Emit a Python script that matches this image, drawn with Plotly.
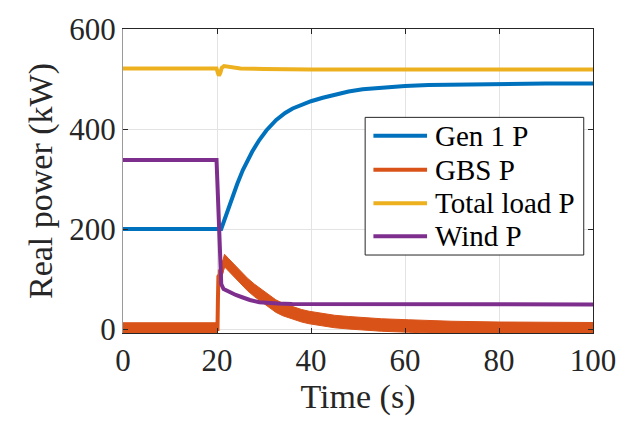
import plotly.graph_objects as go

# Time axis samples (s) and power readings (kW) for each source
gen_t = [0, 20.9, 21.5, 22.2, 22.7, 23.5, 24.3, 25.5, 26.5, 27.5, 29, 30.5, 32.6, 34.5, 36.1,
         38, 40, 42.5, 45.6, 48, 51, 55, 60, 65, 70, 80, 90, 100]
gen_p = [200, 200, 216, 235, 249, 270, 290, 318, 338, 355, 378, 397, 418, 432, 441,
         449, 455.5, 462.5, 470, 475, 479.5, 483, 486, 488, 489, 490, 491, 491]

gbs_t = [0, 20.1, 20.2, 20.3, 20.9, 21.6, 22.5, 23.5, 25, 26.5, 28, 30, 32.5, 34, 36, 38,
         39.6, 42, 45, 48, 50.2, 55, 60.7, 65, 70, 80, 90, 100]
gbs_p = [0, 0, 60, 105, 112, 137, 128, 118, 103, 89, 77, 63, 46, 39, 32, 26.5,
         23, 19, 15, 12.5, 11, 8, 6, 4.5, 3, 1.5, 0.8, 0.5]
gbs_ripple = 12.5  # half-height of the switching ripple band (kW)

load_t = [0, 19.9, 20.2, 20.4, 20.7, 21.0, 21.5, 22.5, 25, 30, 40, 100]
load_p = [521, 521, 512, 507, 512, 522, 526, 524, 521, 520, 519, 519]

wind_t = [0, 19.9, 20.4, 20.9, 21.4, 22.5, 24, 25.5, 27, 29, 31, 33, 36, 40, 100]
wind_p = [338, 338, 215, 90, 80, 74, 68, 63, 58, 53.5, 51.5, 51, 50, 50, 49]

x_ticks = [0, 20, 40, 60, 80, 100]
y_ticks = [0, 200, 400, 600]

series_names = ["Gen 1 P", "GBS P", "Total load P", "Wind P"]
BLUE, ORANGE, YELLOW, PURPLE = "#0072BD", "#D95319", "#EDB120", "#7E2F8E"
series_colors = [BLUE, ORANGE, YELLOW, PURPLE]
FONT = "Liberation Serif"

fig = go.Figure()

fig.add_trace(go.Scatter(x=gen_t, y=gen_p, mode="lines", name=series_names[0],
                         showlegend=False, line=dict(color=BLUE, width=4)))

# GBS ripple envelope
gbs_lo = [p - gbs_ripple for p in gbs_p]
gbs_hi = [p + gbs_ripple for p in gbs_p]
fig.add_trace(go.Scatter(x=gbs_t, y=gbs_lo, mode="lines", showlegend=False,
                         hoverinfo="skip", line=dict(color=ORANGE, width=1)))
fig.add_trace(go.Scatter(x=gbs_t, y=gbs_hi, mode="lines", showlegend=False,
                         hoverinfo="skip", fill="tonexty", fillcolor=ORANGE,
                         line=dict(color=ORANGE, width=1)))
fig.add_trace(go.Scatter(x=gbs_t, y=gbs_p, mode="lines", name=series_names[1],
                         showlegend=False, line=dict(color=ORANGE, width=4)))

fig.add_trace(go.Scatter(x=load_t, y=load_p, mode="lines", name=series_names[2],
                         showlegend=False, line=dict(color=YELLOW, width=4)))
fig.add_trace(go.Scatter(x=wind_t, y=wind_p, mode="lines", name=series_names[3],
                         showlegend=False, line=dict(color=PURPLE, width=4)))

# Right-hand frame edge with inward ticks
fig.add_trace(go.Scatter(x=[None], y=[None], yaxis="y2", showlegend=False, hoverinfo="skip"))

# Boxed legend in the lower-right part of the axes
box_x0, box_x1, box_y0, box_y1 = 0.5152, 0.9803, 0.2565, 0.7093
row_y = [0.6486, 0.5367, 0.4271, 0.3185]
fig.add_shape(type="rect", xref="paper", yref="paper", x0=box_x0, x1=box_x1,
              y0=box_y0, y1=box_y1, fillcolor="white",
              line=dict(color="#262626", width=1), layer="above")
for name, color, ry in zip(series_names, series_colors, row_y):
    fig.add_shape(type="line", xref="paper", yref="paper", x0=0.5328, x1=0.6469,
                  y0=ry, y1=ry, line=dict(color=color, width=4), layer="above")
    fig.add_annotation(xref="paper", yref="paper", x=0.6596, y=ry, text=name,
                       showarrow=False, xanchor="left", yanchor="middle",
                       font=dict(family=FONT, size=29, color="black"))

fig.update_layout(
    width=628, height=425,
    margin=dict(l=123, r=32, t=20, b=92),
    paper_bgcolor="white", plot_bgcolor="white",
    font=dict(family=FONT, color="#262626", size=31),
    xaxis=dict(
        range=[0, 100], tickvals=x_ticks, ticks="inside", ticklen=5,
        tickcolor="#262626", showline=True, linecolor="#262626", linewidth=1,
        mirror="ticks", showgrid=True, gridcolor="#e3e3e3", gridwidth=1,
        zeroline=False, tickfont=dict(size=31, family=FONT),
        title=dict(text="Time (s)", font=dict(size=34, family=FONT), standoff=6),
    ),
    yaxis=dict(
        range=[-8, 600], tickvals=y_ticks, ticks="inside", ticklen=5,
        tickcolor="#262626", showline=True, linecolor="#9a9a9a", linewidth=1,
        showgrid=True, gridcolor="#e3e3e3", gridwidth=1, zeroline=False,
        tickfont=dict(size=31, family=FONT),
        title=dict(text="Real power (kW)", font=dict(size=34, family=FONT), standoff=6),
    ),
    yaxis2=dict(
        range=[-8, 600], tickvals=y_ticks, overlaying="y", side="right",
        ticks="inside", ticklen=5, tickcolor="#262626", showline=True,
        linecolor="#262626", linewidth=1, showticklabels=False,
        showgrid=False, zeroline=False,
    ),
    showlegend=False,
)

fig.write_html("out.html")
